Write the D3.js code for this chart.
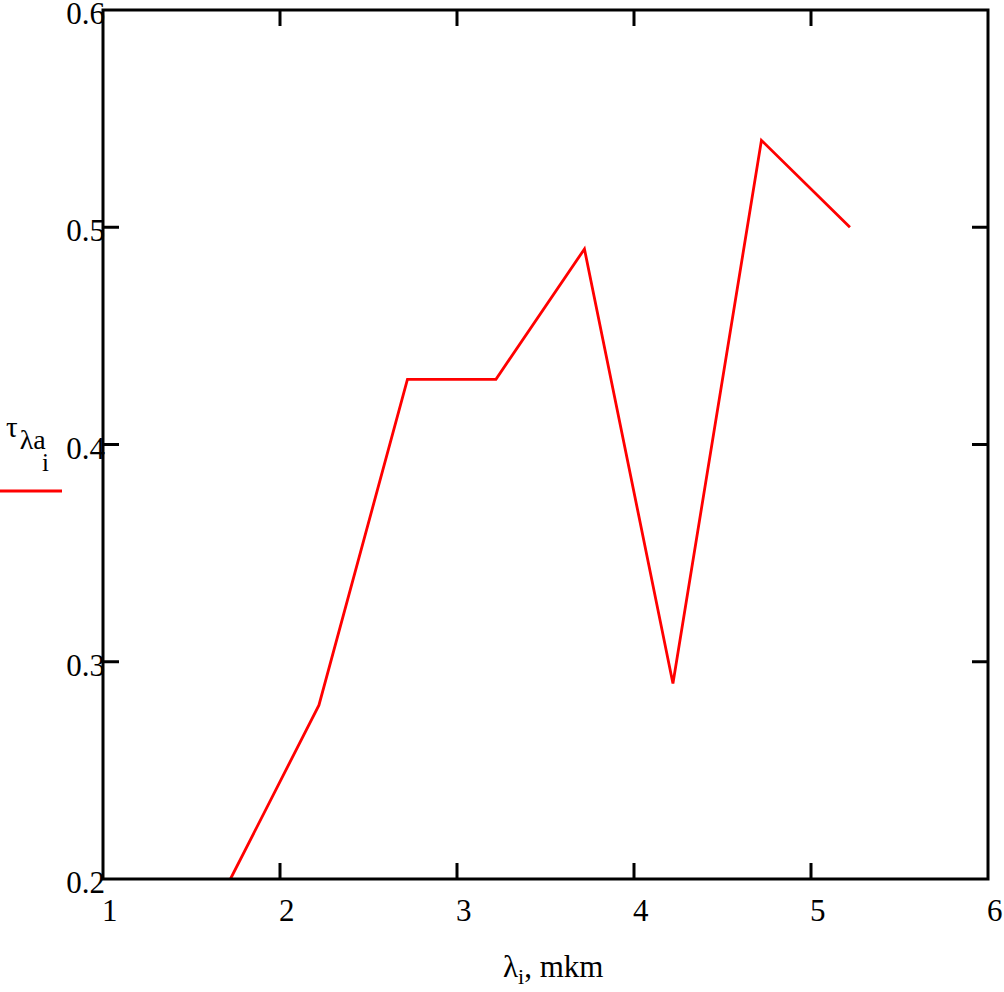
<!DOCTYPE html>
<html>
<head>
<meta charset="utf-8">
<script src="https://cdn.jsdelivr.net/npm/d3@7"></script>
<style>
  body { margin: 0; background: #fff; }
  text { font-family: "Liberation Serif", "DejaVu Serif", serif; fill: #000; }
</style>
</head>
<body>
<div id="chart"></div>
<script>
// wavelength, mkm
var lambda = [1.72, 2.22, 2.72, 3.22, 3.72, 4.22, 4.72, 5.22];
// transmission
var tau = [0.20, 0.28, 0.43, 0.43, 0.49, 0.29, 0.54, 0.50];
var xTicks = [1, 2, 3, 4, 5, 6];
var yTicks = [0.2, 0.3, 0.4, 0.5, 0.6];

var width = 1004, height = 992;
var plotLeft = 103, plotRight = 988, plotTop = 10, plotBottom = 879;

var svg = d3.select("#chart").append("svg")
  .attr("width", width)
  .attr("height", height);

var x = d3.scaleLinear().domain([1, 6]).range([plotLeft, plotRight]);
var y = d3.scaleLinear().domain([0.2, 0.6]).range([plotBottom, plotTop]);

var points = lambda.map(function (d, i) { return {x: d, y: tau[i]}; });

svg.append("clipPath").attr("id", "clip")
  .append("rect")
  .attr("x", plotLeft).attr("y", plotTop)
  .attr("width", plotRight - plotLeft).attr("height", plotBottom - plotTop);

var line = d3.line()
  .x(d => x(d.x))
  .y(d => y(d.y));

svg.append("path")
  .datum(points)
  .attr("clip-path", "url(#clip)")
  .attr("d", line)
  .attr("fill", "none")
  .attr("stroke", "#ff0000")
  .attr("stroke-width", 2.8);

/* inner ticks on all four sides */
var tickLen = 16;
var innerX = xTicks.slice(1, -1);
var innerY = yTicks.slice(1, -1);

var ticks = svg.append("g").attr("stroke", "#000").attr("stroke-width", 3);
innerX.forEach(function (t) {
  ticks.append("line").attr("x1", x(t)).attr("x2", x(t)).attr("y1", plotBottom).attr("y2", plotBottom - tickLen);
  ticks.append("line").attr("x1", x(t)).attr("x2", x(t)).attr("y1", plotTop).attr("y2", plotTop + tickLen);
});
innerY.forEach(function (t) {
  ticks.append("line").attr("y1", y(t)).attr("y2", y(t)).attr("x1", plotLeft).attr("x2", plotLeft + tickLen);
  ticks.append("line").attr("y1", y(t)).attr("y2", y(t)).attr("x1", plotRight).attr("x2", plotRight - tickLen);
});

/* tick labels */
svg.append("g").selectAll("text")
  .data(yTicks).enter()
  .append("text")
  .attr("x", plotLeft + 2)
  .attr("y", d => y(d) + 14)
  .attr("text-anchor", "end")
  .style("font-size", "31px")
  .text(d => d3.format(".1f")(d));

svg.append("g").selectAll("text")
  .data(xTicks).enter()
  .append("text")
  .attr("x", d => x(d) - 1)
  .attr("y", 921)
  .attr("text-anchor", "start")
  .style("font-size", "31px")
  .text(d => d);

/* frame */
svg.append("rect")
  .attr("x", plotLeft).attr("y", plotTop)
  .attr("width", plotRight - plotLeft).attr("height", plotBottom - plotTop)
  .attr("fill", "none")
  .attr("stroke", "#000")
  .attr("stroke-width", 3);

/* x title */
var xt = svg.append("text")
  .attr("x", 503)
  .attr("y", 977)
  .style("font-size", "31px");
xt.append("tspan").text("λ");
xt.append("tspan").attr("dy", 7).style("font-size", "22px").text("i");
xt.append("tspan").attr("dy", -7).text(", mkm");

/* y title with legend line */
var yt = svg.append("text")
  .attr("x", 6)
  .attr("y", 437)
  .style("font-size", "29px");
yt.append("tspan").text("τ");
yt.append("tspan").attr("dx", 2).attr("dy", 12).style("font-size", "28px").text("λa");
svg.append("text")
  .attr("x", 42)
  .attr("y", 471)
  .style("font-size", "25px")
  .text("i");

svg.append("line")
  .attr("x1", 0).attr("x2", 62)
  .attr("y1", 491).attr("y2", 491)
  .attr("stroke", "#ff0000")
  .attr("stroke-width", 3);
</script>
</body>
</html>
